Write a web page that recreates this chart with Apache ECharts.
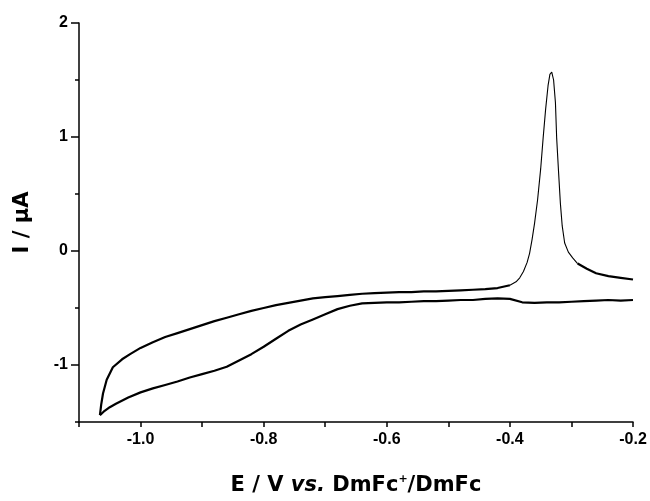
<!DOCTYPE html>
<html>
<head>
<meta charset="utf-8">
<script src="https://cdn.jsdelivr.net/npm/echarts@6/dist/echarts.min.js"></script>
<style>html,body{margin:0;padding:0;background:#fff}#c{width:650px;height:501px}</style>
</head>
<body>
<div id="c"></div>
<script>
// Cathodic scan (lower branch), E in V, I in µA
const lowerE = [-0.20,-0.22,-0.24,-0.26,-0.28,-0.30,-0.32,-0.34,-0.36,-0.38,-0.40,-0.42,-0.44,-0.46,-0.48,-0.50,-0.52,-0.54,-0.56,-0.58,-0.60,-0.62,-0.64,-0.66,-0.68,-0.70,-0.72,-0.74,-0.76,-0.78,-0.80,-0.82,-0.84,-0.86,-0.88,-0.90,-0.92,-0.94,-0.96,-0.98,-1.00,-1.02,-1.04,-1.05,-1.06,-1.066];
const lowerI = [-0.43,-0.435,-0.43,-0.435,-0.44,-0.445,-0.45,-0.45,-0.455,-0.45,-0.42,-0.415,-0.42,-0.43,-0.43,-0.435,-0.44,-0.44,-0.445,-0.45,-0.45,-0.455,-0.46,-0.48,-0.51,-0.555,-0.60,-0.645,-0.70,-0.77,-0.84,-0.905,-0.96,-1.015,-1.05,-1.08,-1.11,-1.145,-1.175,-1.205,-1.24,-1.285,-1.34,-1.37,-1.41,-1.44];
// Anodic scan (upper branch) with stripping peak
const upperE = [-1.066,-1.064,-1.061,-1.055,-1.045,-1.03,-1.017,-1.00,-0.98,-0.96,-0.94,-0.92,-0.90,-0.88,-0.86,-0.84,-0.82,-0.80,-0.78,-0.76,-0.74,-0.72,-0.70,-0.68,-0.66,-0.64,-0.62,-0.60,-0.58,-0.56,-0.54,-0.52,-0.50,-0.48,-0.46,-0.44,-0.42,-0.40,-0.39,-0.384,-0.378,-0.372,-0.368,-0.364,-0.360,-0.355,-0.350,-0.346,-0.342,-0.338,-0.335,-0.332,-0.329,-0.326,-0.324,-0.321,-0.318,-0.315,-0.311,-0.305,-0.298,-0.29,-0.275,-0.26,-0.24,-0.22,-0.20];
const upperI = [-1.44,-1.35,-1.25,-1.13,-1.02,-0.95,-0.905,-0.85,-0.80,-0.755,-0.72,-0.685,-0.65,-0.615,-0.585,-0.555,-0.525,-0.50,-0.475,-0.455,-0.435,-0.415,-0.405,-0.395,-0.385,-0.375,-0.37,-0.365,-0.36,-0.36,-0.355,-0.355,-0.35,-0.345,-0.34,-0.335,-0.325,-0.30,-0.27,-0.235,-0.18,-0.10,-0.02,0.10,0.24,0.45,0.72,0.99,1.24,1.45,1.55,1.57,1.50,1.30,0.99,0.70,0.42,0.22,0.07,-0.01,-0.06,-0.11,-0.155,-0.195,-0.22,-0.235,-0.25];
const xTickLabels = ['-1.0','-0.8','-0.6','-0.4','-0.2'];
const yTickLabels = ['-1','0','1','2'];

function pairs(E, I, from, to) {
  const out = [];
  for (let k = from; k <= to; k++) out.push([E[k], I[k]]);
  return out;
}
const pkStart = upperE.indexOf(-0.40);
const pkEnd = upperE.indexOf(-0.29);

const lineBase = {type: 'line', showSymbol: false, symbol: 'none', animation: false, silent: true, z: 3};
const chart = echarts.init(document.getElementById('c'), null, {renderer: 'canvas'});
const axisTxt = {color: '#000', fontFamily: 'Liberation Sans, Arial, sans-serif', fontWeight: 'bold', fontSize: 16};
const titleFont = 'DejaVu Sans, sans-serif';
chart.setOption({
  animation: false,
  backgroundColor: '#fff',
  grid: {left: 79, right: 17, top: 23, bottom: 72, containLabel: false},
  xAxis: {
    type: 'value', min: -1.1, max: -0.2, interval: 0.1,
    name: '{a|E / V }{i|vs.}{a| DmFc}{s|+}{a|/DmFc}',
    nameLocation: 'middle', nameGap: 52,
    nameTextStyle: {
      rich: {
        a: {fontFamily: titleFont, fontWeight: 'bold', fontSize: 21, color: '#000', lineHeight: 23},
        i: {fontFamily: titleFont, fontWeight: 'bold', fontStyle: 'italic', fontSize: 21, color: '#000', lineHeight: 23},
        s: {fontFamily: titleFont, fontWeight: 'bold', fontSize: 11, color: '#000', verticalAlign: 'top', lineHeight: 23, padding: [0,0,10,0]}
      }
    },
    axisLine: {onZero: false, lineStyle: {color: '#000', width: 1.5}},
    axisTick: {show: true, inside: false, length: 5, lineStyle: {color: '#000', width: 1.5}},
    axisLabel: Object.assign({}, axisTxt, {
      margin: 10,
      formatter: v => { const s = v.toFixed(1); return xTickLabels.indexOf(s) >= 0 ? s : ''; }
    }),
    splitLine: {show: false}
  },
  yAxis: [{
    type: 'value', min: -1.5, max: 2, interval: 0.5,
    name: 'I / μA', nameLocation: 'middle', nameGap: 46, nameRotate: 90,
    nameTextStyle: {fontFamily: titleFont, fontWeight: 'bold', fontSize: 21, color: '#000'},
    axisLine: {show: true, onZero: false, lineStyle: {color: '#000', width: 1.5}},
    axisTick: {show: true, inside: false, length: 8, lineStyle: {color: '#000', width: 1.5}, customValues: [-1, 0, 1, 2]},
    axisLabel: Object.assign({}, axisTxt, {margin: 11, customValues: [-1, 0, 1, 2],
      formatter: v => { const s = String(Math.round(v)); return yTickLabels.indexOf(s) >= 0 ? s : ''; }}),
    splitLine: {show: false}
  }, {
    type: 'value', min: -1.5, max: 2, interval: 0.5, position: 'left', offset: 0,
    axisLine: {show: false},
    axisTick: {show: true, inside: false, length: 4, lineStyle: {color: '#000', width: 1.5}, customValues: [-1.5, -0.5, 0.5, 1.5]},
    axisLabel: {show: false},
    splitLine: {show: false}
  }],
  series: [
    Object.assign({}, lineBase, {name: 'cathodic', data: pairs(lowerE, lowerI, 0, lowerE.length - 1), lineStyle: {color: '#000', width: 2.2}}),
    Object.assign({}, lineBase, {name: 'anodic', data: pairs(upperE, upperI, 0, pkStart), lineStyle: {color: '#000', width: 2.2}}),
    Object.assign({}, lineBase, {name: 'peak', data: pairs(upperE, upperI, pkStart, pkEnd), lineStyle: {color: '#000', width: 1.1}}),
    Object.assign({}, lineBase, {name: 'tail', data: pairs(upperE, upperI, pkEnd, upperE.length - 1), lineStyle: {color: '#000', width: 2.2}})
  ]
});
</script>
</body>
</html>
